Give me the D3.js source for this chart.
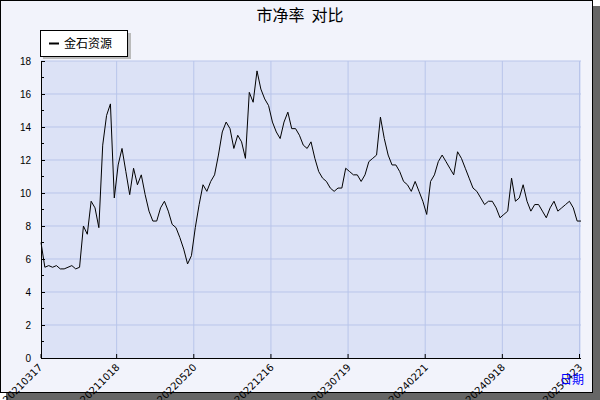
<!DOCTYPE html>
<html>
<head>
<meta charset="utf-8">
<script src="https://d3js.org/d3.v7.min.js"></script>
<style>
  body { margin: 0; background: #fff; }
  svg { display: block; font-family: "DejaVu Sans", sans-serif; }
</style>
</head>
<body>
<script>
// 市净率 数据（按等间距交易日采样）
var seriesName = "金石资源";
var pbValues = [
  7.0, 5.5, 5.6, 5.5, 5.6, 5.4, 5.4, 5.5, 5.6, 5.4,
  5.5, 8.0, 7.5, 9.5, 9.1, 7.9, 12.9, 14.7, 15.4, 9.7,
  11.7, 12.7, 11.3, 9.9, 11.5, 10.5, 11.1, 9.9, 8.9, 8.3,
  8.3, 9.1, 9.5, 8.9, 8.1, 7.9, 7.3, 6.6, 5.7, 6.2,
  7.9, 9.3, 10.5, 10.1, 10.7, 11.1, 12.3, 13.7, 14.3, 13.9,
  12.7, 13.5, 13.1, 12.1, 16.1, 15.5, 17.4, 16.3, 15.7, 15.3,
  14.3, 13.7, 13.3, 14.3, 14.9, 13.9, 13.9, 13.5, 12.9, 12.7,
  13.1, 12.1, 11.3, 10.9, 10.7, 10.3, 10.1, 10.3, 10.3, 11.5,
  11.3, 11.1, 11.1, 10.7, 11.1, 11.9, 12.1, 12.3, 14.6, 13.3,
  12.3, 11.7, 11.7, 11.3, 10.7, 10.5, 10.1, 10.7, 10.1, 9.5,
  8.7, 10.7, 11.1, 11.9, 12.3, 11.9, 11.5, 11.1, 12.5, 12.1,
  11.5, 10.9, 10.3, 10.1, 9.7, 9.3, 9.5, 9.5, 9.1, 8.5,
  8.7, 8.9, 10.9, 9.5, 9.7, 10.5, 9.5, 8.9, 9.3, 9.3,
  8.9, 8.5, 9.1, 9.5, 8.9, 9.1, 9.3, 9.5, 9.1, 8.3, 8.3
];
var dateTicks = ["20210317", "20211018", "20220520", "20221216", "20230719", "20240221", "20240918", "20250423"];
var yTicks = [0, 2, 4, 6, 8, 10, 12, 14, 16, 18];

var W = 600, H = 400;
var pLeft = 41, pRight = 581, pTop = 61, pBottom = 358;

var svg = d3.select("body").append("svg").attr("width", W).attr("height", H);

// 外框与阴影
svg.append("rect").attr("x", 6).attr("y", 6).attr("width", 594).attr("height", 394).attr("fill", "#666");
svg.append("rect").attr("x", 0.5).attr("y", 0.5).attr("width", 592).attr("height", 392)
  .attr("fill", "#f2f3fb").attr("stroke", "#000");

var x = d3.scaleLinear().domain([0, pbValues.length - 1]).range([pLeft, pRight]);
var y = d3.scaleLinear().domain([0, 18]).range([pBottom, pTop]);

// 绘图区
svg.append("rect").attr("x", pLeft).attr("y", pTop).attr("width", pRight - pLeft).attr("height", pBottom - pTop)
  .attr("fill", "#dce2f6");

// 网格
svg.selectAll(".hg").data(yTicks.slice(1)).enter().append("line")
  .attr("x1", pLeft).attr("x2", pRight).attr("y1", function (d) { return y(d); }).attr("y2", function (d) { return y(d); })
  .attr("stroke", "#b9c5ea");
svg.selectAll(".vg").data(dateTicks.slice(1)).enter().append("line")
  .attr("x1", function (d, i) { return x((i + 1) * 20) - 1.5; }).attr("x2", function (d, i) { return x((i + 1) * 20) - 1.5; })
  .attr("y1", pTop).attr("y2", pBottom).attr("stroke", "#b9c5ea");

// 折线
svg.append("path").datum(pbValues)
  .attr("fill", "none").attr("stroke", "#000").attr("stroke-width", 1)
  .attr("d", d3.line().x(function (d, i) { return x(i); }).y(function (d) { return y(d); }));

// y轴
var ya = svg.append("g").attr("transform", "translate(" + pLeft + ",0)")
  .call(d3.axisLeft(y).tickValues(yTicks).tickSize(-4).tickPadding(10));
ya.select(".domain").attr("stroke", "#000");
ya.selectAll("text").attr("font-size", 10).attr("fill", "#000");
svg.selectAll(".ym").data(d3.range(1, 18, 2)).enter().append("line")
  .attr("x1", pLeft).attr("x2", pLeft + 3).attr("y1", function (d) { return y(d); }).attr("y2", function (d) { return y(d); })
  .attr("stroke", "#000");

// x轴
svg.append("line").attr("x1", pLeft).attr("x2", pRight).attr("y1", pBottom + 0.5).attr("y2", pBottom + 0.5).attr("stroke", "#000");
svg.selectAll(".xt").data(dateTicks).enter().append("line")
  .attr("x1", function (d, i) { return x(i * 20) - (i ? 1.5 : 0); }).attr("x2", function (d, i) { return x(i * 20) - (i ? 1.5 : 0); })
  .attr("y1", pBottom).attr("y2", pBottom - 4).attr("stroke", "#000");
svg.selectAll(".xl").data(dateTicks).enter().append("text")
  .attr("transform", function (d, i) { return "translate(" + (x(i * 20) + 2) + "," + (pBottom + 10) + ") rotate(-45)"; })
  .attr("text-anchor", "end").attr("font-size", 10).attr("fill", "#000")
  .text(function (d) { return d; });

svg.append("text").attr("x", 572).attr("y", 384).attr("text-anchor", "middle")
  .attr("font-size", 12).attr("fill", "#0000ff").attr("font-family", "Noto Sans CJK SC").text("日期");

// 标题
svg.append("text").attr("x", 300).attr("y", 21).attr("text-anchor", "middle")
  .attr("font-size", 16).attr("fill", "#000").attr("font-family", "Noto Sans CJK SC")
  .attr("xml:space", "preserve").text("市净率  对比");

// 图例
svg.append("rect").attr("x", 43).attr("y", 33).attr("width", 88).attr("height", 26).attr("fill", "#bbb");
svg.append("rect").attr("x", 40.5).attr("y", 30.5).attr("width", 87).attr("height", 26).attr("fill", "#fff").attr("stroke", "#000");
svg.append("line").attr("x1", 49).attr("x2", 59).attr("y1", 43.5).attr("y2", 43.5).attr("stroke", "#000").attr("stroke-width", 2);
svg.append("text").attr("x", 64).attr("y", 48).attr("font-size", 12).attr("fill", "#000")
  .attr("font-family", "Noto Sans CJK SC").text(seriesName);
</script>
</body>
</html>
